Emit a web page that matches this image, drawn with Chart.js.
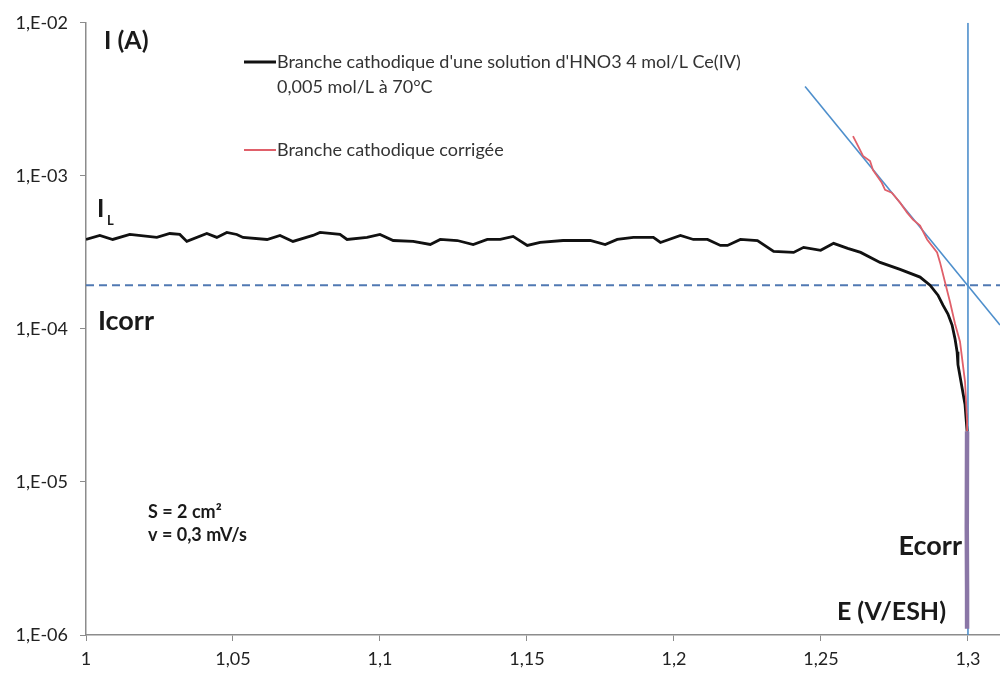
<!DOCTYPE html>
<html>
<head>
<meta charset="utf-8">
<script src="https://cdn.jsdelivr.net/npm/chart.js@4"></script>
<style>
  body { margin: 0; background: #fff; }
  #wrap { width: 1000px; height: 673px; }
</style>
</head>
<body>
<div id="wrap"><canvas id="mainChart" width="1000" height="673"></canvas></div>
<script>
// potential (V/ESH) and current (A)
const blackE = [1.0000, 1.0047, 1.0091, 1.0149, 1.0241, 1.0285, 1.0319, 1.0343, 1.0411, 1.0445,
  1.0479, 1.0513, 1.0534, 1.0616, 1.0660, 1.0704, 1.0772, 1.0796, 1.0864, 1.0888,
  1.0956, 1.1000, 1.1045, 1.1113, 1.1171, 1.1205, 1.1263, 1.1317, 1.1365, 1.1409,
  1.1453, 1.1501, 1.1545, 1.1623, 1.1715, 1.1766, 1.1807, 1.1862, 1.1930, 1.1954,
  1.2022, 1.2066, 1.2114, 1.2158, 1.2182, 1.2226, 1.2284, 1.2339, 1.2407, 1.2441,
  1.2499, 1.2543, 1.2591, 1.2635, 1.2701, 1.2769, 1.2837, 1.2871, 1.2898, 1.2915,
  1.2932, 1.2946, 1.2956, 1.2963, 1.2966, 1.2990, 1.2997];
const blackI = [3.84e-4, 4.08e-4, 3.84e-4, 4.14e-4, 3.96e-4, 4.20e-4, 4.14e-4, 3.73e-4, 4.20e-4, 3.96e-4,
  4.27e-4, 4.14e-4, 3.96e-4, 3.84e-4, 4.08e-4, 3.73e-4, 4.08e-4, 4.27e-4, 4.14e-4, 3.84e-4,
  3.96e-4, 4.14e-4, 3.78e-4, 3.73e-4, 3.56e-4, 3.84e-4, 3.78e-4, 3.56e-4, 3.84e-4, 3.84e-4,
  4.02e-4, 3.51e-4, 3.67e-4, 3.78e-4, 3.78e-4, 3.56e-4, 3.84e-4, 3.96e-4, 3.96e-4, 3.67e-4,
  4.08e-4, 3.84e-4, 3.84e-4, 3.51e-4, 3.51e-4, 3.84e-4, 3.78e-4, 3.21e-4, 3.16e-4, 3.41e-4,
  3.26e-4, 3.62e-4, 3.36e-4, 3.16e-4, 2.72e-4, 2.45e-4, 2.18e-4, 1.93e-4, 1.66e-4, 1.43e-4,
  1.25e-4, 1.06e-4, 8.61e-5, 7.10e-5, 5.84e-5, 3.21e-5, 2.14e-5];

const redE = [1.2609, 1.2626, 1.2643, 1.2667, 1.2677, 1.2707, 1.2718, 1.2741, 1.2769, 1.2793,
  1.2813, 1.2837, 1.2861, 1.2895, 1.2905, 1.2922, 1.2939, 1.2956, 1.2973, 1.2990,
  1.2997, 1.2997, 1.2996, 1.2997, 1.2997];
const redI = [1.82e-3, 1.57e-3, 1.35e-3, 1.25e-3, 1.09e-3, 9.01e-4, 8.11e-4, 7.76e-4, 6.68e-4, 5.75e-4,
  5.18e-4, 4.73e-4, 3.84e-4, 3.16e-4, 2.72e-4, 2.02e-4, 1.50e-4, 1.08e-4, 8.24e-5, 4.53e-5,
  2.49e-5, 2.14e-5, 5.0e-6, 2.0e-6, 1.1e-6];

// Tafel tangent, Ecorr and Icorr construction lines
const tangentE = [1.2446, 1.3109];
const tangentI = [3.84e-3, 1.06e-4];
const ecorr = 1.3;
const icorr = 1.93e-4;

const xTicks = [1, 1.05, 1.1, 1.15, 1.2, 1.25, 1.3];
const xTickLabels = ["1", "1,05", "1,1", "1,15", "1,2", "1,25", "1,3"];
const yTicks = [1e-6, 1e-5, 1e-4, 1e-3, 1e-2];
const yTickLabels = ["1,E-06", "1,E-05", "1,E-04", "1,E-03", "1,E-02"];

const legendLabels = [
  ["Branche cathodique d'une solution d'HNO3 4 mol/L Ce(IV)", "0,005 mol/L à 70°C"],
  ["Branche cathodique corrigée"],
];

const toPoints = (xs, ys) => xs.map((x, i) => ({ x: x, y: ys[i] }));

const FONT = "Lato, 'Open Sans', sans-serif";

// text annotations + custom legend
const notesPlugin = {
  id: "notes",
  afterDraw(chart) {
    const { ctx } = chart;
    ctx.save();
    ctx.textBaseline = "middle";
    ctx.fillStyle = "#1a1a1a";

    ctx.font = "bold 25px " + FONT;
    ctx.textAlign = "left";
    ctx.fillText("I (A)", 104, 41);
    ctx.fillText("I", 97, 209);
    ctx.textAlign = "right";
    ctx.fillText("E (V/ESH)", 946, 612);
    ctx.font = "bold 27px " + FONT;
    ctx.fillText("Ecorr", 962, 546);
    ctx.textAlign = "left";
    ctx.fillText("Icorr", 98, 321);
    ctx.font = "bold 13px " + FONT;
    ctx.fillText("L", 107, 221);

    ctx.font = "bold 18px " + FONT;
    ctx.fillText("S = 2 cm²", 148, 512);
    ctx.fillText("v = 0,3 mV/s", 148, 535);

    // legend
    ctx.font = "18px " + FONT;
    ctx.fillStyle = "#333";
    ctx.strokeStyle = "#111";
    ctx.lineWidth = 3;
    ctx.beginPath();
    ctx.moveTo(244, 62);
    ctx.lineTo(276, 62);
    ctx.stroke();
    ctx.fillText(legendLabels[0][0], 277, 62);
    ctx.fillText(legendLabels[0][1], 277, 87);
    ctx.strokeStyle = "#e0606a";
    ctx.lineWidth = 2;
    ctx.beginPath();
    ctx.moveTo(244, 150);
    ctx.lineTo(276, 150);
    ctx.stroke();
    ctx.fillText(legendLabels[1][0], 277, 150);
    ctx.restore();
  },
};

new Chart(document.getElementById("mainChart"), {
  type: "line",
  data: {
    datasets: [
      {
        label: legendLabels[1][0],
        data: toPoints(redE, redI),
        borderColor: "#e0606a",
        borderWidth: 1.8,
        pointRadius: 0,
        tension: 0,
        segment: {
          borderColor: (c) => (c.p0.parsed.y < 2.2e-5 ? "#8a76a6" : undefined),
          borderWidth: (c) => (c.p0.parsed.y < 2.2e-5 ? 4.5 : undefined),
        },
      },
      {
        label: legendLabels[0].join(" "),
        data: toPoints(blackE, blackI),
        borderColor: "#111111",
        borderWidth: 2.8,
        pointRadius: 0,
        tension: 0,
      },
      {
        label: "tangente",
        data: toPoints(tangentE, tangentI),
        borderColor: "#4e8fcc",
        borderWidth: 1.6,
        pointRadius: 0,
      },
      {
        label: "Ecorr",
        data: [{ x: ecorr, y: 1e-2 }, { x: ecorr, y: 1e-6 }],
        borderColor: "#4e8fcc",
        borderWidth: 1.6,
        pointRadius: 0,
      },
      {
        label: "Icorr",
        data: [{ x: 1, y: icorr }, { x: 1.3109, y: icorr }],
        borderColor: "#5079b3",
        borderWidth: 2,
        borderDash: [8, 5],
        pointRadius: 0,
      },
    ],
  },
  options: {
    responsive: false,
    animation: false,
    layout: { padding: { top: 19, right: 0, left: 0, bottom: 0 } },
    plugins: { legend: { display: false }, tooltip: { enabled: false } },
    scales: {
      x: {
        type: "linear",
        min: 1,
        max: 1.3109,
        afterBuildTicks: (s) => { s.ticks = xTicks.map((v) => ({ value: v })); },
        afterFit: (s) => { s.height = 38; },
        ticks: {
          callback: (v, i) => xTickLabels[i],
          color: "#222",
          font: { family: FONT, size: 18 },
          padding: 7,
          maxRotation: 0,
        },
        grid: { drawOnChartArea: false, drawTicks: true, tickLength: 6, color: "#8c8c8c" },
        border: { color: "#8c8c8c", width: 1.5 },
      },
      y: {
        type: "logarithmic",
        min: 1e-6,
        max: 1e-2,
        afterBuildTicks: (s) => { s.ticks = yTicks.map((v) => ({ value: v })); },
        afterFit: (s) => { s.width = 86; },
        ticks: {
          callback: (v, i) => yTickLabels[i],
          color: "#222",
          font: { family: FONT, size: 18 },
          padding: 12,
        },
        grid: { drawOnChartArea: false, drawTicks: true, tickLength: 6, color: "#8c8c8c" },
        border: { color: "#8c8c8c", width: 1.5 },
      },
    },
  },
  plugins: [notesPlugin],
});
</script>
</body>
</html>
